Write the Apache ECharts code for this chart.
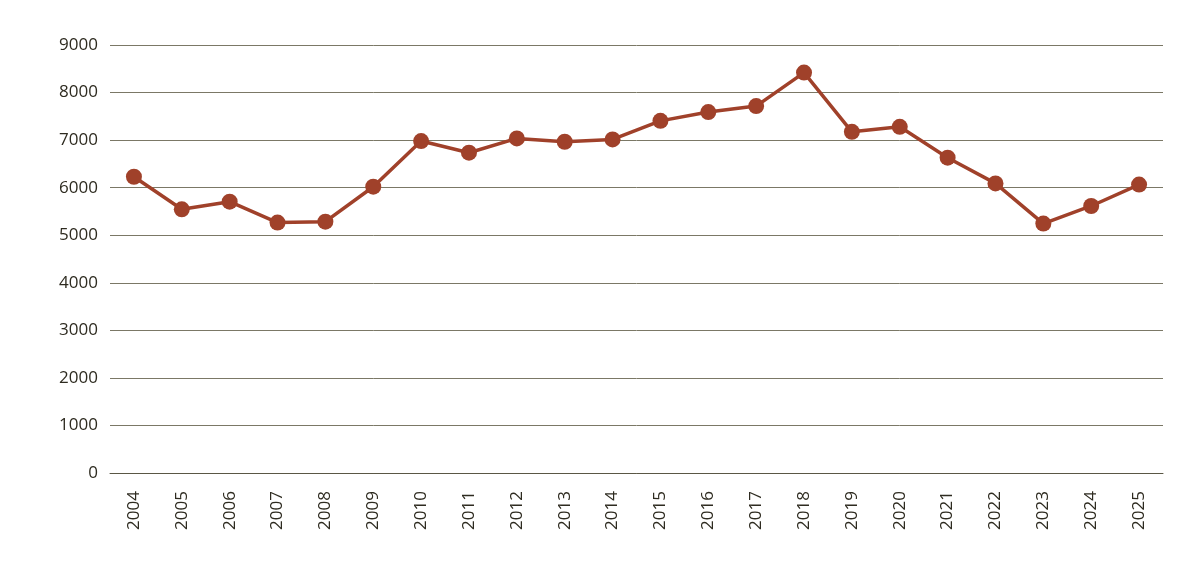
<!DOCTYPE html>
<html>
<head>
<meta charset="utf-8">
<script src="https://cdn.jsdelivr.net/npm/echarts@6/dist/echarts.min.js"></script>
<style>
  html, body { margin: 0; padding: 0; background: #ffffff; }
  #chart { width: 1198px; height: 568px; }
</style>
</head>
<body>
<div id="chart"></div>
<script>
var years = ['2004', '2005', '2006', '2007', '2008', '2009', '2010', '2011', '2012', '2013', '2014',
  '2015', '2016', '2017', '2018', '2019', '2020', '2021', '2022', '2023', '2024', '2025'];
var values = [6230, 5545, 5705, 5265, 5285, 6020, 6980, 6735, 7035, 6965, 7015,
  7405, 7590, 7715, 8420, 7175, 7280, 6630, 6090, 5245, 5615, 6065];
var yTicks = { min: 0, max: 9000, interval: 1000 };

var chart = echarts.init(document.getElementById('chart'));
var textColor = '#2e2b20';
chart.setOption({
  backgroundColor: '#ffffff',
  animation: false,
  grid: { left: 110, right: 35, top: 45, bottom: 95 },
  xAxis: {
    type: 'category',
    data: years,
    boundaryGap: true,
    axisLine: { lineStyle: { color: '#5a5745', width: 1 } },
    axisTick: { show: false },
    axisLabel: {
      rotate: 90,
      margin: 18,
      color: textColor,
      fontFamily: 'Open Sans',
      fontSize: 17
    }
  },
  yAxis: {
    type: 'value',
    min: yTicks.min,
    max: yTicks.max,
    interval: yTicks.interval,
    axisLine: { show: false },
    axisTick: { show: false },
    axisLabel: {
      margin: 12,
      color: textColor,
      fontFamily: 'Open Sans',
      fontSize: 17,
      formatter: function (v) { return String(v); }
    },
    splitLine: { lineStyle: { color: '#7b7866', width: 1 } }
  },
  series: [{
    type: 'line',
    data: values,
    symbol: 'circle',
    symbolSize: 16,
    lineStyle: { color: '#a0412a', width: 3.5 },
    itemStyle: { color: '#a0412a' }
  }]
});
</script>
</body>
</html>
